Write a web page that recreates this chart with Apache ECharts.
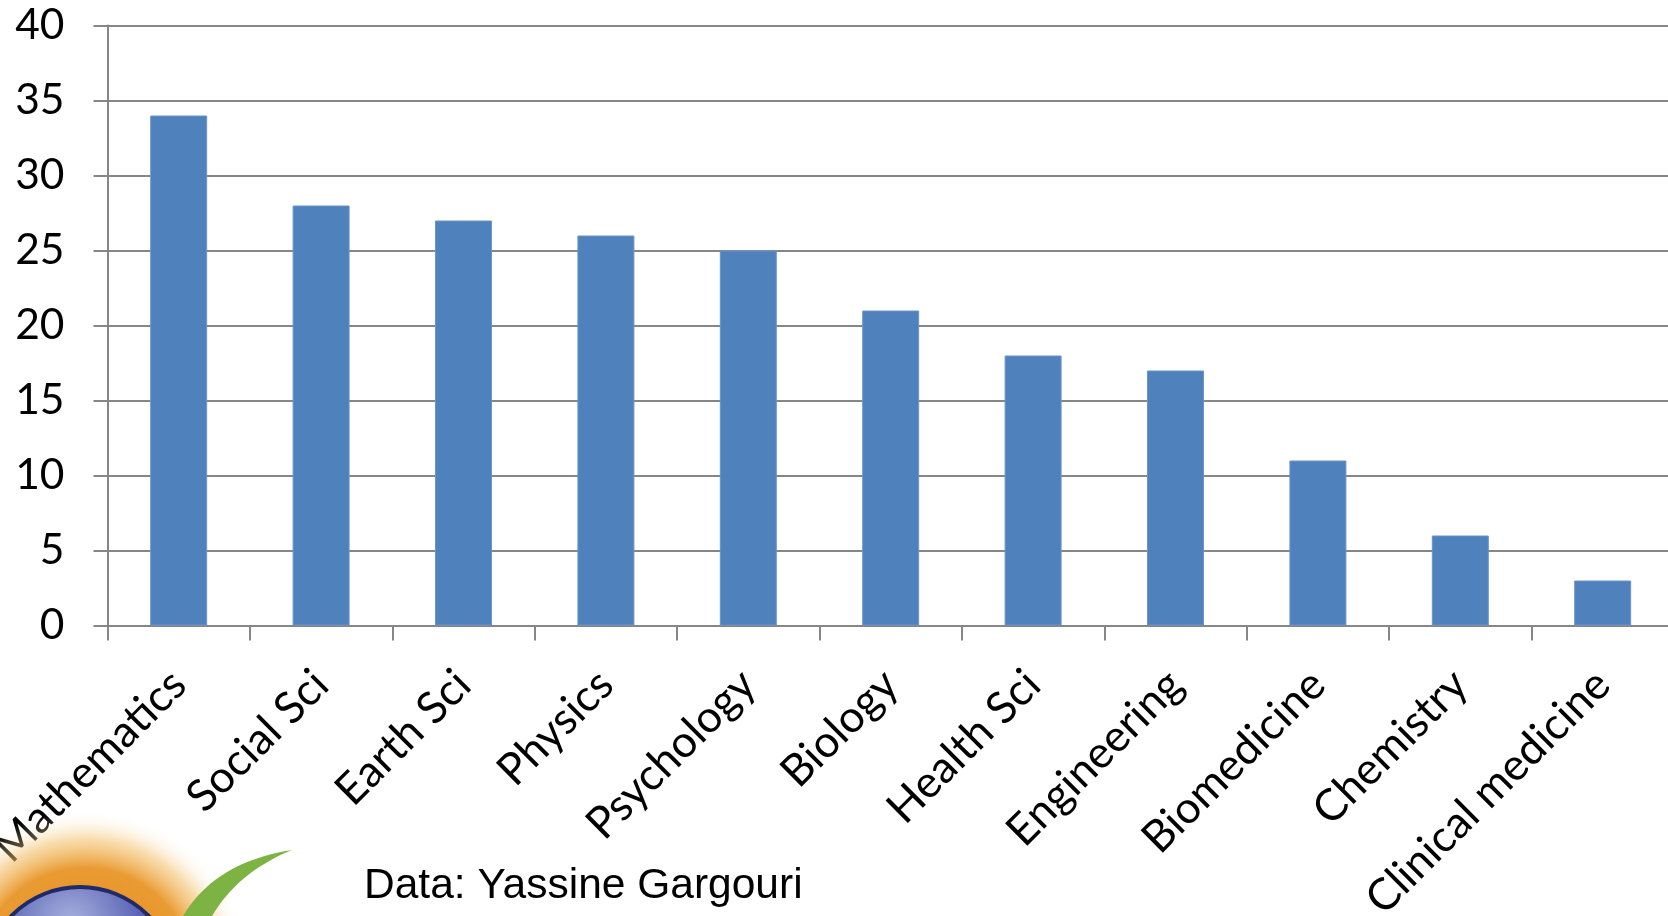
<!DOCTYPE html>
<html>
<head>
<meta charset="utf-8">
<script src="https://cdn.jsdelivr.net/npm/echarts@6/dist/echarts.min.js"></script>
<style>
html,body{margin:0;padding:0;background:#fff;}
#chart{width:1668px;height:916px;}
</style>
</head>
<body>
<div id="chart"></div>
<script>
const categories = ['Mathematics','Social Sci','Earth Sci','Physics','Psychology','Biology','Health Sci','Engineering','Biomedicine','Chemistry','Clinical medicine'];
const values = [34, 28, 27, 26, 25, 21, 18, 17, 11, 6, 3];
const yTicks = [0, 5, 10, 15, 20, 25, 30, 35, 40];
const sourceNote = 'Data: Yassine Gargouri';

// decorative logo swoosh outline (quadratic curves sampled into a polygon)
function quad(p0, p1, p2, n) {
  const pts = [];
  for (let i = 0; i <= n; i++) {
    const t = i / n, u = 1 - t;
    pts.push([u*u*p0[0] + 2*u*t*p1[0] + t*t*p2[0], u*u*p0[1] + 2*u*t*p1[1] + t*t*p2[1]]);
  }
  return pts;
}
const swoosh = quad([292,850],[215,862],[183,916],20).concat(quad([212,916],[238,872],[292,850],20));

const chart = echarts.init(document.getElementById('chart'), null, {renderer: 'canvas'});
const gridColor = '#868686';
chart.setOption({
  animation: false,
  backgroundColor: '#ffffff',
  grid: {left: 107.5, top: 25.5, width: 1566.4, height: 600, containLabel: false, outerBoundsMode: 'none'},
  xAxis: {
    type: 'category',
    data: categories,
    boundaryGap: true,
    axisLine: {show: true, lineStyle: {color: gridColor, width: 2}},
    axisTick: {show: true, alignWithLabel: false, length: 15, lineStyle: {color: gridColor, width: 2}},
    axisLabel: {
      rotate: 45, interval: 0, margin: 52,
      fontFamily: 'Lato', fontSize: 44, color: '#000'
    }
  },
  yAxis: {
    type: 'value',
    min: yTicks[0], max: yTicks[yTicks.length - 1], interval: 5,
    axisLine: {show: true, lineStyle: {color: gridColor, width: 2}},
    axisTick: {show: true, inside: false, length: 14, lineStyle: {color: gridColor, width: 2}},
    splitLine: {show: true, lineStyle: {color: gridColor, width: 2}},
    axisLabel: {margin: 43, fontFamily: 'Lato', fontSize: 42.5, color: '#000'}
  },
  series: [{
    type: 'bar',
    data: values,
    barWidth: 57,
    itemStyle: {color: '#4f81bd', borderColor: '#6a95c9', borderWidth: 1}
  }],
  graphic: [
    {
      type: 'circle', shape: {cx: 85, cy: 975, r: 165}, silent: true, z: 1,
      style: {fill: new echarts.graphic.RadialGradient(0.5, 0.5, 0.5, [
        {offset: 0, color: 'rgba(225,130,20,1)'},
        {offset: 0.65, color: 'rgba(232,150,40,0.95)'},
        {offset: 0.82, color: 'rgba(242,190,100,0.55)'},
        {offset: 1, color: 'rgba(255,255,255,0)'}])}
    },
    {
      type: 'circle', shape: {cx: 80, cy: 983, r: 96}, silent: true, z: 2,
      style: {stroke: '#1f2a6b', lineWidth: 4, fill: new echarts.graphic.RadialGradient(0.45, 0.2, 0.7, [
        {offset: 0, color: '#aab3e0'},
        {offset: 0.5, color: '#5c66b5'},
        {offset: 1, color: '#2d3788'}])}
    },
    {
      type: 'polygon', silent: true, z: 2,
      shape: {points: swoosh},
      style: {fill: '#7cb342'}
    },
    {
      type: 'text', left: 364, top: 865, silent: true, z: 3,
      style: {text: sourceNote, font: '42.5px "Liberation Sans", Arial, sans-serif', fill: '#000'}
    }
  ]
});
</script>
</body>
</html>
